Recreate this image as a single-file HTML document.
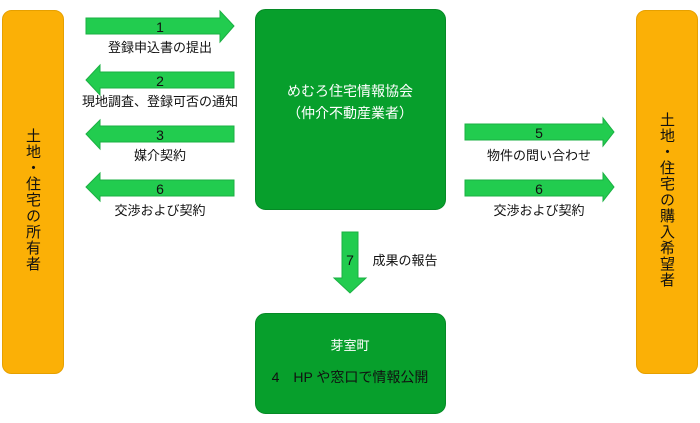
<!DOCTYPE html>
<html><head><meta charset="utf-8"><style>
body{margin:0;width:700px;height:423px;background:#fff;overflow:hidden;font-family:"Liberation Sans","Noto Sans CJK JP",sans-serif}
svg{position:absolute;left:0;top:0}
.v{position:absolute;writing-mode:vertical-rl;font-size:15px;color:#111;letter-spacing:1px}
</style></head><body>
<svg width="700" height="423" font-family="Liberation Sans, Noto Sans CJK JP, sans-serif">
<rect x="2.5" y="10.5" width="61" height="363" rx="9" fill="#fbb006" stroke="#e6a000"/>
<rect x="636.5" y="10.5" width="61" height="363" rx="9" fill="#fbb006" stroke="#e6a000"/>
<rect x="255.5" y="9.5" width="190" height="200" rx="10" fill="#079f2c" stroke="#068a26"/>
<rect x="255.5" y="313.5" width="190" height="100" rx="10" fill="#079f2c" stroke="#068a26"/>
<g fill="#22cc4f" stroke="#1bb043">
<polygon points="86,18 220,18 220,11 234,26 220,42 220,34 86,34"/>
<polygon points="234,72 100,72 100,65 86,80 100,95 100,88 234,88"/>
<polygon points="234,126 100,126 100,120 86,134 100,149 100,142 234,142"/>
<polygon points="234,180 100,180 100,173 86,187 100,201 100,196 234,196"/>
<polygon points="465,124 603,124 603,118 614,132 603,146 603,140 465,140"/>
<polygon points="465,180 603,180 603,173 614,187 603,201 603,196 465,196"/>
<polygon points="342,232 358,232 358,278 366,278 350,293 334,278 342,278"/>
</g>
<g font-size="13" fill="#111" text-anchor="middle">
<text x="160" y="32" font-size="14">1</text><text x="160" y="52">登録申込書の提出</text>
<text x="160" y="86" font-size="14">2</text><text x="160" y="106">現地調査、登録可否の通知</text>
<text x="160" y="140" font-size="14">3</text><text x="160" y="160">媒介契約</text>
<text x="160" y="194" font-size="14">6</text><text x="160" y="215">交渉および契約</text>
<text x="539" y="138" font-size="14">5</text><text x="539" y="160">物件の問い合わせ</text>
<text x="539" y="194" font-size="14">6</text><text x="539" y="215">交渉および契約</text>
<text x="350" y="265" font-size="14">7</text><text x="405" y="265">成果の報告</text>
<text x="350" y="350" fill="#fff">芽室町</text>
<text x="350" y="382" font-size="14">4　HP や窓口で情報公開</text>
</g>
<g font-size="14" fill="#fff" text-anchor="middle">
<text x="350" y="96">めむろ住宅情報協会</text>
<text x="350" y="118">（仲介不動産業者）</text>
</g>
</svg>
<div class="v" style="left:22px;top:128px">土地・住宅の所有者</div>
<div class="v" style="left:656px;top:112px">土地・住宅の購入希望者</div>
</body></html>
